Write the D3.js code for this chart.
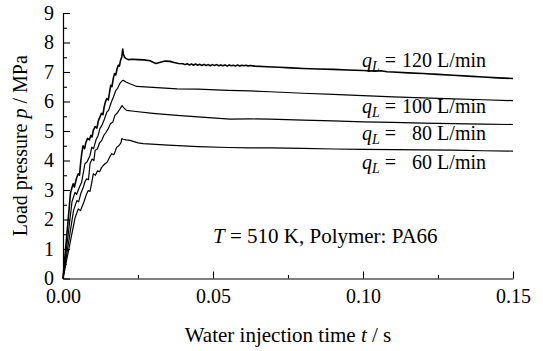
<!DOCTYPE html>
<html>
<head>
<meta charset="utf-8">
<script src="https://cdn.jsdelivr.net/npm/d3@7"></script>
<style>
  body { margin: 0; background: #fff; }
  svg text { font-family: "Liberation Serif", "Times New Roman", serif; fill: #000; }
  .domain { stroke: #000; stroke-width: 1.2; }
  .tick line { stroke: #000; stroke-width: 1.1; }
  .curve { fill: none; stroke: #000; stroke-linejoin: round; }
</style>
</head>
<body>
<script>
// flow rates (L/min) for the four curves
var flowRates = [120, 100, 80, 60];

// q = 120 L/min
var t120 = [0, 0.0025, 0.0029, 0.0034, 0.0038, 0.0045, 0.0051, 0.0055, 0.0059, 0.0063, 0.0067, 0.0072, 0.0076, 0.0082, 0.0088,
  0.0093, 0.0097, 0.0101, 0.0107, 0.0113, 0.0118, 0.0123, 0.0128, 0.0133, 0.0137, 0.0141, 0.0146, 0.0151, 0.0155, 0.0159,
  0.0163, 0.0168, 0.0172, 0.0176, 0.0180, 0.0184, 0.0188, 0.0192, 0.0196, 0.0199, 0.0201, 0.0205, 0.0210, 0.0218, 0.0230,
  0.0250, 0.0270, 0.0290, 0.0300, 0.0310, 0.0325, 0.0340, 0.0357, 0.0370, 0.0385, 0.0400, 0.0407, 0.0414, 0.0421, 0.0428,
  0.0435, 0.0442, 0.0449, 0.0456, 0.0463, 0.0470, 0.0477, 0.0484, 0.0491, 0.0498, 0.0505, 0.0512, 0.0519, 0.0526, 0.0533,
  0.0540, 0.0547, 0.0554, 0.0561, 0.0568, 0.0575, 0.0582, 0.0589, 0.0596, 0.0603, 0.0610, 0.0617, 0.0624, 0.0640, 0.0680,
  0.0720, 0.0760, 0.0800, 0.0850, 0.0900, 0.0950, 0.1000, 0.1040, 0.1060, 0.1080, 0.1100,
  0.1150, 0.1200, 0.1250, 0.1300, 0.1350, 0.1400, 0.1450, 0.1500];
var p120 = [0, 2.9, 3.05, 3.21, 3.1, 3.4, 3.55, 3.5, 3.94, 4.28, 4.5, 4.4, 4.6, 4.75, 4.7,
  4.85, 4.8, 5.02, 5.15, 5.1, 5.35, 5.47, 5.6, 5.55, 5.8, 5.98, 6.1, 6.05, 6.3, 6.55,
  6.5, 6.8, 6.95, 6.9, 7.1, 7.23, 7.2, 7.4, 7.51, 7.78, 7.62, 7.5, 7.46, 7.42, 7.43,
  7.42, 7.41, 7.38, 7.33, 7.29, 7.33, 7.37, 7.36, 7.32, 7.29, 7.28, 7.25, 7.28, 7.24, 7.27,
  7.23, 7.27, 7.23, 7.26, 7.22, 7.26, 7.22, 7.25, 7.21, 7.25, 7.22, 7.25, 7.21, 7.24, 7.21,
  7.24, 7.20, 7.24, 7.21, 7.23, 7.20, 7.24, 7.20, 7.23, 7.21, 7.23, 7.20, 7.22, 7.20, 7.18,
  7.16, 7.14, 7.12, 7.10, 7.09, 7.07, 7.05, 7.03, 7.04, 7.01, 7.00,
  6.97, 6.95, 6.92, 6.89, 6.86, 6.83, 6.80, 6.78];

// q = 100 L/min
var t100 = [0, 0.0030, 0.0040, 0.0045, 0.0055, 0.0062, 0.0068, 0.0073, 0.0080, 0.0090, 0.0096, 0.0102, 0.0110, 0.0117, 0.0123,
  0.0130, 0.0138, 0.0146, 0.0152, 0.0160, 0.0168, 0.0175, 0.0182, 0.0190, 0.0197, 0.0201, 0.0210, 0.0223, 0.0246, 0.0300,
  0.0380, 0.0450, 0.0550, 0.0623, 0.0690, 0.0800, 0.0900, 0.1000, 0.1100, 0.1200, 0.1300, 0.1400, 0.1500];
var p100 = [0, 2.6, 2.92, 2.85, 3.1, 3.26, 3.6, 3.89, 3.95, 4.17, 4.45, 4.4, 4.7, 4.85, 5.08,
  5.2, 5.4, 5.64, 5.7, 5.95, 6.15, 6.35, 6.45, 6.62, 6.7, 6.72, 6.66, 6.6, 6.51, 6.48,
  6.43, 6.42, 6.38, 6.36, 6.33, 6.28, 6.24, 6.2, 6.16, 6.12, 6.09, 6.06, 6.03];

// q = 80 L/min
var t80 = [0, 0.0035, 0.0046, 0.0052, 0.0060, 0.0068, 0.0074, 0.0079, 0.0085, 0.0090, 0.0097, 0.0103, 0.0107, 0.0115, 0.0122,
  0.0129, 0.0136, 0.0143, 0.0151, 0.0158, 0.0166, 0.0173, 0.0180, 0.0188, 0.0193, 0.0197, 0.0203, 0.0212, 0.0236, 0.0300,
  0.0380, 0.0450, 0.0557, 0.0623, 0.0690, 0.0800, 0.0900, 0.1000, 0.1100, 0.1200, 0.1300, 0.1400, 0.1500];
var p80 = [0, 2.3, 2.64, 2.6, 2.9, 3.1, 3.3, 3.38, 3.35, 3.89, 4.05, 4.0, 4.34, 4.4, 4.6,
  4.68, 4.85, 4.95, 5.08, 5.25, 5.3, 5.53, 5.6, 5.72, 5.8, 5.86, 5.78, 5.70, 5.67, 5.6,
  5.53, 5.48, 5.40, 5.41, 5.40, 5.37, 5.34, 5.31, 5.29, 5.27, 5.25, 5.23, 5.22];

// q = 60 L/min
var t60 = [0, 0.0040, 0.0051, 0.0058, 0.0062, 0.0070, 0.0078, 0.0084, 0.0090, 0.0096, 0.0101, 0.0108, 0.0115, 0.0122, 0.0128,
  0.0134, 0.0141, 0.0147, 0.0155, 0.0162, 0.0170, 0.0179, 0.0186, 0.0193, 0.0196, 0.0201, 0.0210, 0.0223, 0.0250, 0.0268,
  0.0350, 0.0450, 0.0550, 0.0623, 0.0690, 0.0800, 0.0900, 0.1000, 0.1100, 0.1200, 0.1300, 0.1400, 0.1500];
var p60 = [0, 2.05, 2.36, 2.3, 2.4, 2.6, 2.85, 2.98, 2.95, 3.26, 3.55, 3.5, 3.65, 3.62, 3.75,
  3.83, 3.9, 3.94, 4.1, 4.23, 4.2, 4.45, 4.5, 4.6, 4.74, 4.72, 4.7, 4.68, 4.6, 4.57,
  4.52, 4.47, 4.44, 4.43, 4.43, 4.41, 4.39, 4.38, 4.37, 4.36, 4.35, 4.33, 4.32];

var xMajor = [0, 0.05, 0.10, 0.15];
var xMinor = [0.025, 0.075, 0.125];
var yMajor = [0, 1, 2, 3, 4, 5, 6, 7, 8, 9];
var yMinor = [0.5, 1.5, 2.5, 3.5, 4.5, 5.5, 6.5, 7.5, 8.5];

var series = [
  {q: flowRates[0], t: t120, p: p120},
  {q: flowRates[1], t: t100, p: p100},
  {q: flowRates[2], t: t80, p: p80},
  {q: flowRates[3], t: t60, p: p60}
];

//chart frame
var width = 543, height = 351;
var margin = {left: 63, right: 30, top: 13, bottom: 73};
var fs = 20;

var svg = d3.select("body").append("svg")
    .attr("width", width)
    .attr("height", height);

var x = d3.scaleLinear().domain([0, 0.15]).range([margin.left, width - margin.right]);
var y = d3.scaleLinear().domain([0, 9]).range([height - margin.bottom + 0.5, margin.top]);

//minor ticks first
svg.append("g")
    .attr("transform", "translate(0," + y(0) + ")")
    .call(d3.axisBottom(x).tickValues(xMinor).tickSizeInner(-3.5).tickSizeOuter(0).tickFormat(""))
    .select(".domain").remove();
svg.append("g")
    .attr("transform", "translate(" + x(0) + ",0)")
    .call(d3.axisLeft(y).tickValues(yMinor).tickSizeInner(-4).tickSizeOuter(0).tickFormat(""))
    .select(".domain").remove();

//major axes
svg.append("g")
    .attr("transform", "translate(0," + y(0) + ")")
    .call(d3.axisBottom(x).tickValues(xMajor).tickSizeInner(-7).tickSizeOuter(0).tickPadding(10)
        .tickFormat(d3.format(".2f")));
svg.append("g")
    .attr("transform", "translate(" + x(0) + ",0)")
    .call(d3.axisLeft(y).tickValues(yMajor).tickSizeInner(-7).tickSizeOuter(0).tickPadding(9)
        .tickFormat(d3.format("d")));
svg.selectAll(".tick text").attr("font-size", fs);

//curves
var line = d3.line()
    .x(function(d){ return x(d[0]); })
    .y(function(d){ return y(d[1]); });

svg.selectAll(".curve")
    .data(series)
    .enter()
    .append("path")
    .attr("class", "curve")
    .attr("stroke-width", function(d){ return d.q === 120 ? 1.6 : 1.2; })
    .attr("d", function(d){ return line(d.t.map(function(v, i){ return [v, d.p[i]]; })); });

//curve labels
var labelBase = [67, 113, 140, 169];
series.forEach(function(s, i){
    var lab = svg.append("text")
        .attr("x", 362)
        .attr("y", labelBase[i])
        .attr("font-size", fs);
    lab.append("tspan").attr("font-style", "italic").text("q");
    lab.append("tspan").attr("font-style", "italic").attr("font-size", 14).attr("dy", 4).text("L");
    lab.append("tspan").attr("dy", -4).text(" =");
    svg.append("text")
        .attr("x", 486)
        .attr("y", labelBase[i])
        .attr("text-anchor", "end")
        .attr("font-size", fs)
        .text(s.q + " L/min");
});

//annotation
var note = svg.append("text")
    .attr("x", 213)
    .attr("y", 243)
    .attr("font-size", 21);
note.append("tspan").attr("font-style", "italic").text("T");
note.append("tspan").text(" = 510 K, Polymer: PA66");

//axis titles
var xt = svg.append("text")
    .attr("x", (x(0) + x(0.15)) / 2)
    .attr("y", 342)
    .attr("text-anchor", "middle")
    .attr("font-size", 21);
xt.append("tspan").text("Water injection time ");
xt.append("tspan").attr("font-style", "italic").text("t");
xt.append("tspan").text(" / s");

var yt = svg.append("text")
    .attr("transform", "translate(26.5," + y(4.5) + ") rotate(-90)")
    .attr("text-anchor", "middle")
    .attr("font-size", fs);
yt.append("tspan").text("Load pressure ");
yt.append("tspan").attr("font-style", "italic").text("p");
yt.append("tspan").text(" / MPa");
</script>
</body>
</html>
